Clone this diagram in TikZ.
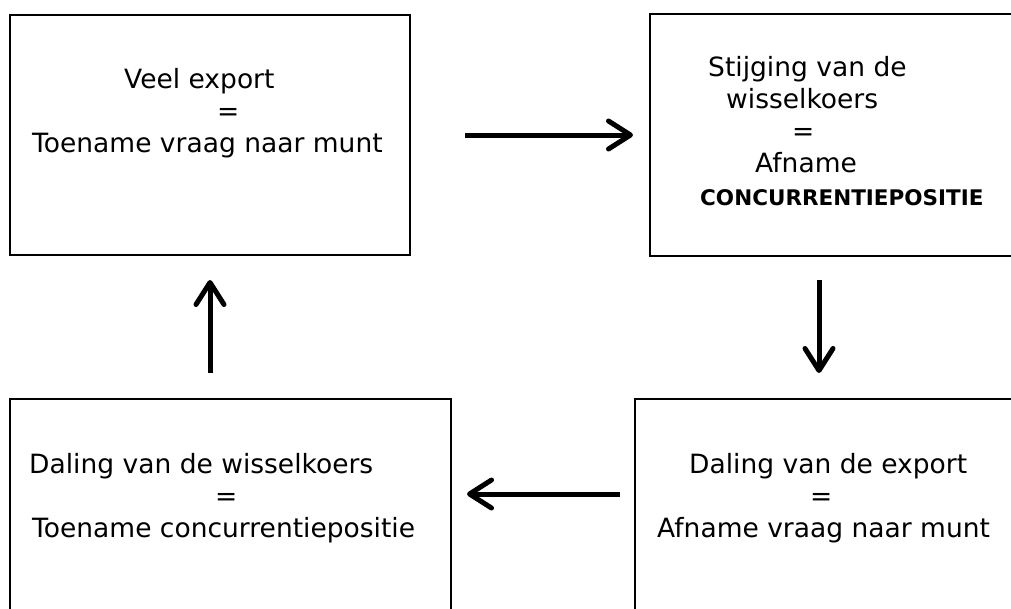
\documentclass[tikz,border=0pt]{standalone}
\usepackage{fontspec}
\setmainfont{DejaVu Sans}
\usetikzlibrary{arrows.meta}

\begin{document}
\begin{tikzpicture}[x=1pt, y=-1pt,
    box/.style={draw, line width=2pt, anchor=north west, inner sep=0pt},
    txt/.style={anchor=base west, inner sep=0pt, font=\fontsize{26.5}{32}\selectfont},
    arr/.style={line width=5pt, -{Straight Barb[length=22pt, width=28pt, round]}}]
  \useasboundingbox (0,0) rectangle (1011,608);
  \clip (0,0) rectangle (1011,608);

  % the four frames (B, C and D run past the page edge)
  \node[box, minimum width=400pt, minimum height=240pt] (A) at (9,14) {};
  \node[box, minimum width=400pt, minimum height=242pt] (B) at (649,13) {};
  \node[box, minimum width=441pt, minimum height=240pt] (C) at (9,398) {};
  \node[box, minimum width=400pt, minimum height=240pt] (D) at (634,398) {};

  % texts, line by line
  \foreach \n/\x/\y/\t in {a1/124/88/Veel export, a2/217/120/=,
                           a3/32/152/Toename vraag naar munt}
    \node[txt] (\n) at (\x,\y) {\t};

  \foreach \n/\x/\y/\t in {b1/708/76/Stijging van de, b2/726/108/wisselkoers,
                           b3/792/140/=, b4/755/172/Afname}
    \node[txt] (\n) at (\x,\y) {\t};
  \node[txt, font=\fontsize{21.5}{26}\selectfont\bfseries] (b5) at (700,205)
    {CONCURRENTIEPOSITIE};

  \foreach \n/\x/\y/\t in {c1/29/473/Daling van de wisselkoers, c2/215/505/=,
                           c3/32/537/Toename concurrentiepositie}
    \node[txt] (\n) at (\x,\y) {\t};

  \foreach \n/\x/\y/\t in {d1/689/473/Daling van de export, d2/810/505/=,
                           d3/657/537/Afname vraag naar munt}
    \node[txt] (\n) at (\x,\y) {\t};

  % the cycle
  \draw[arr, shorten <=54pt, shorten >=16pt] (A.east) -- (B.west);
  \draw[arr, shorten <=23pt, shorten >=25pt]
    ([xshift=170pt]B.south west) -- ([xshift=185pt]D.north west);
  \draw[arr, shorten <=14pt, shorten >=15pt]
    ([yshift=-96pt]D.north west) -- ([yshift=-96pt]C.north east);
  \draw[arr, shorten <=25pt, shorten >=24pt] (C.north -| A.south) -- (A.south);
\end{tikzpicture}
\end{document}
